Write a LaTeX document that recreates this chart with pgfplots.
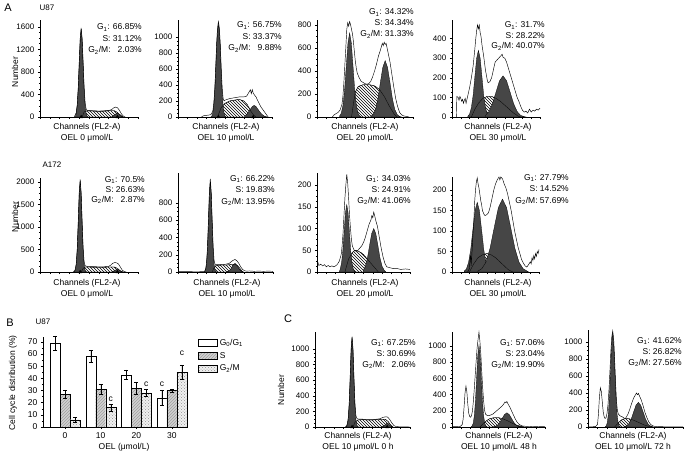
\documentclass[border=0pt]{standalone}
\usepackage{fontspec}
\setmainfont{Liberation Sans}
\usepackage{pgfplots}
\usepackage{pgfplotstable}
\pgfplotsset{compat=1.18}
\usetikzlibrary{patterns}
\definecolor{peak}{RGB}{70,70,70}

% S-phase components (drawn hatched, then outlined again on top)
\pgfplotstableread[row sep=\\]{x y\\ 43 0\\ 45 90\\ 48 110\\ 55 105\\ 62 100\\ 70 110\\ 76 110\\ 79 80\\ 82 20\\ 84 0\\}\sUa
\pgfplotstableread[row sep=\\]{x y\\ 42 0\\ 44 60\\ 46 120\\ 50 170\\ 55 200\\ 60 210\\ 65 220\\ 70 200\\ 74 150\\ 77 80\\ 80 30\\ 83 0\\}\sUb
\pgfplotstableread[row sep=\\]{x y\\ 36 0\\ 38 120\\ 40 220\\ 43 265\\ 48 280\\ 55 280\\ 60 270\\ 65 240\\ 70 180\\ 75 100\\ 80 30\\ 83 0\\}\sUc
\pgfplotstableread[row sep=\\]{x y\\ 22 0\\ 26 40\\ 30 70\\ 35 95\\ 40 105\\ 45 105\\ 50 95\\ 55 80\\ 60 60\\ 65 40\\ 70 20\\ 75 5\\ 78 0\\}\sUd
\pgfplotstableread[row sep=\\]{x y\\ 42 0\\ 44 80\\ 46 110\\ 50 110\\ 60 105\\ 70 110\\ 76 110\\ 79 80\\ 82 20\\ 84 0\\}\sAa
\pgfplotstableread[row sep=\\]{x y\\ 36 0\\ 38 50\\ 40 75\\ 45 80\\ 50 80\\ 55 85\\ 60 90\\ 63 70\\ 66 30\\ 68 0\\}\sAb
\pgfplotstableread[row sep=\\]{x y\\ 30 0\\ 34 30\\ 38 45\\ 41 50\\ 44 48\\ 47 45\\ 50 40\\ 54 30\\ 58 20\\ 62 10\\ 66 0\\}\sAc
\pgfplotstableread[row sep=\\]{x y\\ 20 0\\ 25 20\\ 30 35\\ 35 42\\ 40 45\\ 45 42\\ 50 35\\ 55 25\\ 60 15\\ 65 5\\ 70 0\\}\sAd
\pgfplotstableread[row sep=\\]{x y\\ 40 0\\ 42 60\\ 45 90\\ 50 95\\ 55 90\\ 60 90\\ 65 95\\ 70 100\\ 74 100\\ 77 70\\ 80 20\\ 82 0\\}\sCa
\pgfplotstableread[row sep=\\]{x y\\ 30 0\\ 35 60\\ 40 100\\ 45 115\\ 50 115\\ 55 100\\ 60 75\\ 65 45\\ 70 20\\ 75 5\\ 78 0\\}\sCb
\pgfplotstableread[row sep=\\]{x y\\ 28 0\\ 32 50\\ 36 90\\ 40 100\\ 44 95\\ 48 80\\ 52 60\\ 56 40\\ 60 20\\ 64 8\\ 68 0\\}\sCc

\pgfplotsset{
  /pgf/number format/assume math mode=true,
  /pgf/number format/1000 sep={},
  hist/.style={scale only axis, anchor=south west,
    axis lines*=left, axis line style={-, line width=0.5pt},
    xmin=0, xmax=100, ymin=0,
    xtick={0,10,...,100}, minor x tick num=1, xticklabels={},
    tick align=outside, major tick length=2.2pt, minor tick length=1.2pt,
    minor y tick num=3, scaled y ticks=false,
    every tick/.style={black, line width=0.4pt},
    tick label style={font=\fontsize{8}{9}\selectfont},
    clip=false},
  env/.style={draw=black, line width=0.45pt},
  pk/.style={fill=peak, draw=black, line width=0.3pt},
  sph/.style={pattern=north west lines, draw=black, line width=0.3pt},
  sline/.style={draw=black, line width=0.3pt},
  tri/.style={only marks, mark=triangle*, mark size=1.8pt, black},
  eb/.style={error bars/.cd, y dir=both, y explicit,
    error bar style={black, line width=0.4pt},
    error mark options={rotate=90, mark size=2pt, black}},
}

\newcommand\pct[6]{%
  \node[anchor=base east, inner sep=0pt] at (#1,#2) {G\textsubscript{1}: #4\%};
  \node[anchor=base east, inner sep=0pt] at (#1,#2-#3) {S: #5\%};
  \node[anchor=base east, inner sep=0pt] at (#1,#2-2*#3) {G\textsubscript{2}/M: #6\%};}
\newcommand\chan[4]{%
  \node[anchor=base] at (#1,#2) {Channels (FL2-A)};
  \node[anchor=base] at (#1,#2-#3) {#4};}

\begin{document}
\begin{tikzpicture}[x=1pt, y=1pt, font=\fontsize{8.5}{10}\selectfont]
\path[use as bounding box] (0,0) rectangle (685,456);

% ---------------- row 1: U87 ----------------
\begin{axis}[hist, at={(40pt,339pt)}, width=98pt, height=97pt, ymax=1720, ytick={0,400,...,1600}]
\addplot[sph] table {\sUa} \closedcycle;
\addplot[pk] coordinates {(36,0)(37,69)(38,211)(39,507)(40,947)(41,1376)(42,1560)(43,1376)(44,947)(45,507)(46,211)(47,69)(48,17)(49,0)} \closedcycle;
\addplot[pk] coordinates {(73,0)(75,25)(77,50)(79,70)(81,50)(83,25)(85,0)} \closedcycle;
\addplot[sline] table {\sUa};
\addplot[env] coordinates {(35,0)(37,80)(38,220)(39,520)(40,960)(41,1390)(42,1580)(43,1390)(44,970)(45,540)(46,260)(47,150)(48,120)(50,115)(55,110)(60,105)(65,110)(70,115)(73,130)(75,160)(77,175)(79,165)(81,120)(83,60)(85,15)(87,0)};
\addplot[tri] coordinates {(42,0)(79,0)};
\end{axis}

\begin{axis}[hist, at={(178pt,339pt)}, width=94pt, height=97pt, ymax=1210, ytick={0,200,...,1000}]
\addplot[sph] table {\sUb} \closedcycle;
\addplot[pk] coordinates {(35,0)(36,10)(37,50)(38,140)(39,300)(40,560)(41,870)(42,1080)(43,1150)(44,1080)(45,870)(46,560)(47,300)(48,140)(49,50)(50,10)(51,0)} \closedcycle;
\addplot[pk] coordinates {(71,10)(73,30)(76,80)(79,130)(81,145)(83,130)(86,80)(89,35)(92,10)(95,0)} \closedcycle;
\addplot[sline] table {\sUb};
\addplot[env] coordinates {(25,0)(27,15)(30,20)(33,25)(35,30)(37,70)(38,160)(39,320)(40,580)(41,890)(42,1110)(43,1190)(44,1110)(45,900)(46,600)(47,360)(48,230)(49,200)(50,210)(55,230)(60,240)(65,250)(70,250)(73,260)(75,300)(77,340)(78,290)(79,340)(80,300)(81,280)(83,250)(85,200)(88,130)(91,80)(94,30)(96,0)};
\addplot[tri] coordinates {(43,0)(80,0)};
\end{axis}

\begin{axis}[hist, at={(317pt,339pt)}, width=96pt, height=97pt, ymax=843, ytick={0,200,...,800}]
\addplot[sph] table {\sUc} \closedcycle;
\addplot[pk] coordinates {(23.5,8)(25.25,32)(27,99)(28.75,237)(30.5,443)(32.25,644)(34,730)(35.75,644)(37.5,443)(39.25,237)(41,99)(42.75,32)(44.5,8)(46,0)} \closedcycle;
\addplot[pk] coordinates {(56,5)(58.5,22)(61,66)(63.5,160)(66,300)(68.5,430)(71,490)(73.5,430)(76,300)(78.5,160)(81,66)(83.5,22)(86,5)(88,0)} \closedcycle;
\addplot[sline] table {\sUc};
\addplot[env] coordinates {(16,0)(18,20)(20,30)(22,40)(24,60)(26,110)(27,180)(28,300)(29,450)(30,600)(31,760)(32,820)(33,790)(34,830)(35,800)(36,760)(37,720)(38,650)(39,560)(40,480)(41,420)(42,380)(44,340)(46,310)(48,300)(50,290)(52,285)(54,290)(56,310)(58,350)(60,400)(62,460)(64,530)(66,580)(67,610)(68,640)(69,620)(70,650)(71,630)(72,640)(73,600)(74,560)(76,480)(78,370)(80,260)(82,160)(84,90)(86,40)(88,20)(90,10)(93,5)(96,0)};
\end{axis}

\begin{axis}[hist, at={(452pt,339pt)}, width=88pt, height=97pt, ymax=495, ytick={0,100,...,400}]
\addplot[sph] table {\sUd} \closedcycle;
\addplot[pk] coordinates {(18,4)(20,15)(22,48)(24,110)(26,206)(28,300)(30,340)(32,300)(34,206)(36,110)(38,48)(40,15)(42,4)(44,0)} \closedcycle;
\addplot[pk] coordinates {(38,8)(42,28)(46,68)(50,127)(54,185)(58,210)(62,185)(66,127)(70,68)(74,28)(78,8)(82,2)(84,0)} \closedcycle;
\addplot[sline] table {\sUd};
\addplot[env] coordinates {(5,0)(5.5,105)(7,100)(8,85)(9,105)(10,95)(11,80)(12,90)(13,70)(14,85)(15,95)(16,70)(17,90)(18,110)(20,150)(22,200)(24,260)(26,350)(27,400)(28,440)(29,470)(30,450)(31,470)(32,430)(33,410)(34,370)(36,310)(38,240)(40,190)(41,175)(43,180)(45,200)(47,240)(49,280)(51,290)(53,300)(55,310)(57,320)(58,305)(60,300)(62,280)(64,250)(66,220)(68,190)(70,160)(72,130)(74,100)(76,80)(78,55)(80,35)(82,25)(84,30)(86,20)(88,40)(90,25)(92,35)(94,30)(96,40)(98,35)(100,45)};
\end{axis}

% ---------------- row 2: A172 ----------------
\begin{axis}[hist, at={(40pt,184pt)}, width=98pt, height=94pt, ymax=2090, ytick={0,500,...,2000}]
\addplot[sph] table {\sAa} \closedcycle;
\addplot[pk] coordinates {(34,0)(35,8)(36,43)(37,172)(38,506)(39,1095)(40,1740)(41,2030)(42,1740)(43,1095)(44,506)(45,172)(46,43)(47,8)(48,0)} \closedcycle;
\addplot[pk] coordinates {(73,0)(74,8)(76,30)(78,55)(79,60)(80,55)(82,30)(84,8)(85,0)} \closedcycle;
\addplot[sline] table {\sAa};
\addplot[env] coordinates {(34,0)(35,20)(36,60)(37,190)(38,520)(39,1110)(40,1760)(41,2060)(42,1760)(43,1110)(44,540)(45,230)(46,140)(48,125)(50,120)(55,120)(60,115)(65,115)(70,125)(72,150)(74,190)(76,210)(78,205)(80,180)(82,110)(84,40)(86,10)(88,0)};
\addplot[tri] coordinates {(41,0)(79,0)};
\end{axis}

\begin{axis}[hist, at={(178pt,184pt)}, width=95pt, height=99pt, ymax=1147, ytick={0,200,...,800}]
\addplot[sph] table {\sAb} \closedcycle;
\addplot[pk] coordinates {(27,0)(28,4)(29,22)(30,89)(31,262)(32,566)(33,900)(34,1050)(35,900)(36,566)(37,262)(38,89)(39,22)(40,4)(41,0)} \closedcycle;
\addplot[pk] coordinates {(51,1)(54,14)(56,41)(58,80)(60,100)(62,80)(64,41)(66,14)(69,1)} \closedcycle;
\addplot[sline] table {\sAb};
\addplot[env] coordinates {(0,5)(10,5)(20,6)(26,5)(27,6)(28,10)(29,30)(30,100)(31,280)(32,590)(33,920)(34,1080)(35,920)(36,590)(37,290)(38,130)(39,90)(41,85)(45,85)(50,90)(54,100)(56,120)(58,135)(60,145)(62,130)(64,100)(66,60)(68,30)(70,15)(72,10)(75,12)(80,8)(85,10)(90,8)(95,10)(100,8)};
\end{axis}

\begin{axis}[hist, at={(317pt,184pt)}, width=93pt, height=99pt, ymax=228, ytick={0,50,...,200}]
\addplot[sph] table {\sAc} \closedcycle;
\addplot[pk] coordinates {(24,0)(25,7)(26.4,21)(27.8,50)(29.2,94)(30.6,137)(32,155)(33.4,137)(34.8,94)(36.2,50)(37.6,21)(39,7)(40.5,1)(41,0)} \closedcycle;
\addplot[pk] coordinates {(49.75,4)(52,13)(54.25,32)(56.5,61)(58.75,88)(61,100)(63.25,88)(65.5,61)(67.75,32)(70,13)(72.25,4)(74,0)} \closedcycle;
\addplot[sline] table {\sAc};
\addplot[env] coordinates {(0,20)(1,22)(2,15)(4,18)(6,14)(8,17)(10,12)(12,15)(14,12)(16,14)(18,12)(20,14)(22,18)(24,25)(26,40)(27,60)(28,90)(29,130)(30,170)(31,200)(32,225)(33,205)(34,170)(35,130)(36,100)(37,75)(38,60)(40,50)(42,48)(44,50)(46,55)(48,60)(50,68)(52,80)(54,95)(56,110)(58,120)(59,130)(60,125)(61,138)(62,130)(63,120)(65,105)(67,80)(69,55)(71,35)(73,20)(75,12)(78,10)(82,8)(86,8)(90,6)(95,7)(100,6)};
\end{axis}

\begin{axis}[hist, at={(452pt,184pt)}, width=87pt, height=95pt, ymax=232, ytick={0,50,...,200}]
\addplot[sph] table {\sAd} \closedcycle;
\addplot[pk] coordinates {(14,2)(16.5,7)(19,23)(21.5,55)(24,103)(26.5,150)(29,170)(31.5,150)(34,103)(36.5,55)(39,23)(41.5,7)(44,2)(45,0)} \closedcycle;
\addplot[pk] coordinates {(29.5,2)(34.25,8)(39,24)(43.75,58)(48.5,108)(53.25,157)(58,178)(62.75,157)(67.5,108)(72.25,58)(77,24)(81.75,8)(86.5,2)(88,0)} \closedcycle;
\addplot[sline] table {\sAd};
\addplot[env] coordinates {(18,0)(20,8)(21,40)(21.5,38)(22,15)(23,50)(24,90)(25,120)(26,170)(27,200)(28,220)(29,230)(30,215)(31,205)(32,190)(33,175)(34,165)(35,150)(36,145)(37,140)(38,138)(40,140)(42,145)(44,160)(46,180)(48,200)(50,215)(52,225)(54,232)(55,225)(56,232)(57,230)(58,228)(60,215)(62,205)(64,190)(66,170)(68,150)(70,125)(72,100)(74,80)(76,60)(78,45)(80,30)(82,22)(84,15)(86,12)(88,18)(90,25)(91,20)(92,35)(93,28)(94,40)(95,32)(96,45)(97,38)(98,50)(99,45)(100,55)};
\end{axis}

% ---------------- panel B: bar chart ----------------
\begin{axis}[scale only axis, anchor=south west, at={(43pt,29pt)}, width=145pt, height=90pt,
  ybar=0pt, bar width=10pt, xmin=-0.62, xmax=3.45, ymin=0, ymax=74,
  axis lines*=left, axis line style={-, line width=0.5pt},
  xtick={0,1,2,3}, xticklabels={0,10,20,30}, minor x tick num=1,
  ytick={0,10,...,70}, minor y tick num=1,
  tick align=outside, major tick length=2.2pt, minor tick length=1.2pt,
  every tick/.style={black, line width=0.4pt},
  tick label style={font=\fontsize{8.5}{9}\selectfont},
  legend style={at={(1.07,1.0)}, anchor=north west, draw=none, fill=none,
    font=\fontsize{8.5}{9}\selectfont, row sep=1.2pt, inner sep=0pt},
  legend cell align=left,
  legend image code/.code={\draw[#1] (0pt,-3.5pt) rectangle (19pt,3.5pt);},
  clip=false]
\addplot[fill=white, draw=black, line width=0.4pt, eb] coordinates {(0,69) +- (0,6) (1,58) +- (0,5) (2,43) +- (0,4) (3,24) +- (0,6)};
\addplot[fill=gray!35, draw=black, line width=0.4pt, postaction={pattern=north east lines, pattern color=gray!75}, eb] coordinates {(0,27) +- (0,3) (1,31) +- (0,4) (2,32) +- (0,5) (3,30) +- (0,1)};
\addplot[fill=gray!12, draw=black, line width=0.4pt, postaction={pattern=crosshatch dots, pattern color=gray!85}, eb] coordinates {(0,6) +- (0,2) (1,16) +- (0,3) (2,28) +- (0,3) (3,45) +- (0,6)};
\legend{G\textsubscript{0}/G\textsubscript{1}, S, G\textsubscript{2}/M}
\node[xshift=10pt] at (axis cs:1,23) {c};
\node[xshift=10pt] at (axis cs:2,35.5) {c};
\node[xshift=-10pt] at (axis cs:3,35) {c};
\node[xshift=10pt] at (axis cs:3,61) {c};
\end{axis}

% ---------------- panel C ----------------
\begin{axis}[hist, at={(315pt,29pt)}, width=95pt, height=95pt, ymax=1218, ytick={0,200,...,1000}]
\addplot[sph] table {\sCa} \closedcycle;
\addplot[pk] coordinates {(32,0)(33,5)(34,25)(35,98)(36,287)(37,620)(38,986)(39,1150)(40,986)(41,620)(42,287)(43,98)(44,25)(45,5)(46,0)} \closedcycle;
\addplot[pk] coordinates {(70,0)(71,5)(73,20)(75,45)(76,50)(77,45)(79,20)(81,5)(82,0)} \closedcycle;
\addplot[sline] table {\sCa};
\addplot[env] coordinates {(32,0)(33,10)(34,40)(35,120)(36,310)(37,640)(38,1000)(39,1160)(40,1000)(41,640)(42,310)(43,150)(44,110)(46,100)(50,100)(55,95)(60,95)(65,100)(68,105)(70,115)(72,125)(74,130)(76,130)(77,120)(79,90)(81,50)(83,20)(85,8)(88,3)(92,2)(100,0)};
\addplot[tri] coordinates {(39,0)(76,0)};
\end{axis}

\begin{axis}[hist, at={(452pt,29pt)}, width=93pt, height=95pt, ymax=1173, ytick={0,200,...,1000}]
\addplot[sph] table {\sCb} \closedcycle;
\addplot[pk] coordinates {(20.5,0)(21.5,11)(22.75,44)(24,137)(25.25,328)(26.5,613)(27.75,891)(29,1010)(30.25,891)(31.5,613)(32.75,328)(34,137)(35.25,44)(36.5,11)(37.5,0)} \closedcycle;
\addplot[pk] coordinates {(44,2)(46.5,8)(49,24)(51.5,57)(54,106)(56.5,154)(59,175)(61.5,154)(64,106)(66.5,57)(69,24)(71.5,8)(74,2)(75,0)} \closedcycle;
\addplot[sline] table {\sCb};
\addplot[env] coordinates {(0,5)(5,5)(9,8)(11,30)(12,100)(13,250)(14,420)(15,505)(16,430)(17,280)(18,170)(19,130)(20,120)(21,140)(22,200)(23,320)(24,480)(25,650)(26,820)(27,980)(28,1080)(29,1170)(30,1060)(31,900)(32,680)(33,480)(34,320)(35,210)(36,160)(38,140)(40,140)(42,150)(44,160)(46,180)(48,200)(50,220)(52,240)(54,260)(56,290)(57,310)(58,300)(59,315)(60,290)(62,250)(64,200)(66,150)(68,100)(70,60)(72,35)(74,20)(76,12)(80,8)(85,5)(90,8)(95,5)(100,6)};
\end{axis}

\begin{axis}[hist, at={(588pt,29pt)}, width=95pt, height=97pt, ymax=1141, ytick={0,200,...,1000}]
\addplot[sph] table {\sCc} \closedcycle;
\addplot[pk] coordinates {(18,0)(19.1,12)(20.25,48)(21.4,149)(22.55,357)(23.7,668)(24.85,970)(26,1100)(27.15,970)(28.3,668)(29.45,357)(30.6,149)(31.75,48)(32.9,12)(34,0)} \closedcycle;
\addplot[pk] coordinates {(38,3)(40.5,13)(43,39)(45.5,94)(48,176)(50.5,256)(53,290)(55.5,256)(58,176)(60.5,94)(63,39)(65.5,13)(68,3)(69,0)} \closedcycle;
\addplot[sline] table {\sCc};
\addplot[env] coordinates {(0,3)(5,3)(8,5)(10,30)(11,150)(12,350)(13,460)(14,420)(15,300)(16,180)(17,120)(18,100)(19,110)(20,160)(21,260)(22,420)(23,640)(24,880)(25,1060)(26,1130)(27,1040)(28,800)(29,520)(30,300)(31,190)(32,150)(34,130)(36,120)(38,105)(39,100)(40,110)(42,150)(44,210)(46,280)(48,340)(50,380)(51,400)(52,380)(53,395)(54,370)(56,320)(58,250)(60,170)(62,110)(64,60)(66,30)(68,15)(70,8)(74,5)(80,3)(90,3)(100,3)};
\end{axis}

% ---------------- texts ----------------
\pct{142}{426}{11.5}{66.85}{31.12}{\phantom{0}2.03}
\pct{282}{428}{11.5}{56.75}{33.37}{\phantom{0}9.88}
\pct{414}{441}{11}{34.32}{34.34}{31.33}
\pct{545}{428}{10.5}{31.7}{28.22}{40.07}
\pct{145}{274}{10}{70.5}{26.63}{\phantom{0}2.87}
\pct{275}{275}{11.5}{66.22}{19.83}{13.95}
\pct{411}{275}{11}{34.03}{24.91}{41.06}
\pct{569}{276}{11.5}{27.79}{14.52}{57.69}
\pct{416}{111}{11}{67.25}{30.69}{\phantom{0}2.06}
\pct{545}{111}{11}{57.06}{23.04}{19.90}
\pct{682}{113}{11}{41.62}{26.82}{27.56}

\chan{87}{326}{10}{OEL 0 μmol/L}
\chan{226}{326}{10}{OEL 10 μmol/L}
\chan{365}{326}{10}{OEL 20 μmol/L}
\chan{498}{326}{10}{OEL 30 μmol/L}
\chan{87}{171}{11}{OEL 0 μmol/L}
\chan{227}{171}{11}{OEL 10 μmol/L}
\chan{365}{171}{11}{OEL 20 μmol/L}
\chan{498}{171}{11}{OEL 30 μmol/L}
\chan{358}{18}{11}{OEL 10 μmol/L 0 h}
\chan{499}{18}{11}{OEL 10 μmol/L 48 h}
\chan{633}{18}{11}{OEL 10 μmol/L 72 h}

\node[rotate=90] at (15,384) {Number};
\node[rotate=90] at (15,239) {Number};
\node[rotate=90] at (281,66) {Number};
\node[rotate=90] at (13,73) {Cell cycle distribution (\%)};
\node at (124,9) {OEL (μmol/L)};

\node[font=\fontsize{11}{12}\selectfont] at (8,448) {A};
\node[font=\fontsize{11}{12}\selectfont] at (10,133) {B};
\node[font=\fontsize{11}{12}\selectfont] at (288,137) {C};
\node[font=\fontsize{8}{9}\selectfont] at (47,448) {U87};
\node[font=\fontsize{8}{9}\selectfont] at (52,291) {A172};
\node[font=\fontsize{8}{9}\selectfont] at (43,134) {U87};
\end{tikzpicture}
\end{document}
